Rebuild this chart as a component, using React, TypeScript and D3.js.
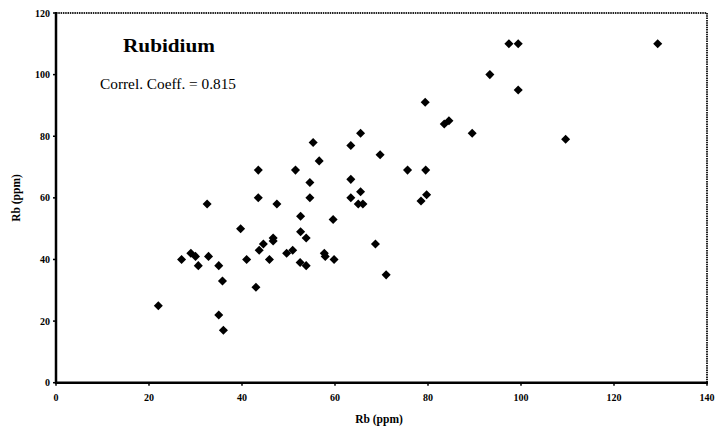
import React from "react";
import * as d3 from "d3";

const xValues = [22, 27, 29, 30, 30.6, 32.5, 32.8, 35, 35, 35.8, 36, 39.7, 41, 43, 43.7, 44.6, 45.9, 46.7, 46.7, 47.5, 49.6, 50.9, 52.6, 52.6, 52.5, 53.8, 53.8, 57.7, 57.9, 59.6, 59.8, 43.5, 43.5, 51.5, 54.6, 55.3, 56.6, 54.6, 63.4, 63.4, 63.4, 65.5, 65.5, 65, 66, 69.7, 75.6, 79.5, 78.5, 79.7, 68.7, 71, 79.4, 83.5, 84.5, 89.5, 93.3, 97.4, 99.4, 99.4, 109.6, 129.4];
const yValues = [25, 40, 42, 41, 38, 58, 41, 38, 22, 33, 17, 50, 40, 31, 43, 45, 40, 47, 46, 58, 42, 43, 54, 49, 39, 47, 38, 42, 41, 53, 40, 69, 60, 69, 65, 78, 72, 60, 77, 66, 60, 81, 62, 58, 58, 74, 69, 69, 59, 61, 45, 35, 91, 84, 85, 81, 100, 110, 110, 95, 79, 110];
const xTicks = [0, 20, 40, 60, 80, 100, 120, 140];
const yTicks = [0, 20, 40, 60, 80, 100, 120];
const title = "Rubidium";
const subtitle = "Correl. Coeff. = 0.815";
const xLabel = "Rb (ppm)";
const yLabel = "Rb (ppm)";

const W = 717;
const H = 434;
const left = 56, right = 707, top = 13, bottom = 382.7;

export default function App() {
  const x = d3.scaleLinear().domain([0, 140]).range([left, right]);
  const y = d3.scaleLinear().domain([0, 120]).range([bottom, top]);
  const diamond = d3.symbol().type(d3.symbolDiamond2).size(52)();
  const font = "'Liberation Serif', 'DejaVu Serif', serif";
  return (
    <svg width={W} height={H} style={{ position: "absolute", left: 0, top: 0, background: "#fff" }} fontFamily={font}>
      <line x1={left} y1={top} x2={right} y2={top} stroke="#222" strokeWidth={2} strokeDasharray="1.5,0.8" />
      <line x1={right} y1={top} x2={right} y2={bottom} stroke="#222" strokeWidth={2} strokeDasharray="1.5,0.8" />
      <line x1={left} y1={top - 1} x2={left} y2={bottom + 1} stroke="#000" strokeWidth={2.5} />
      <line x1={left - 1} y1={bottom} x2={right + 1} y2={bottom} stroke="#000" strokeWidth={2.5} />
      {yTicks.map((t) => (
        <g key={"y" + t}>
          <line x1={left - 3} x2={left} y1={y(t)} y2={y(t)} stroke="#000" strokeWidth={1.5} />
          <text x={left - 6} y={y(t) + 3.5} fontSize={10} fontWeight="bold" textAnchor="end">{t}</text>
        </g>
      ))}
      {xTicks.map((t) => (
        <g key={"x" + t}>
          <line x1={x(t)} x2={x(t)} y1={bottom} y2={bottom + 3} stroke="#000" strokeWidth={1.5} />
          <text x={x(t)} y={bottom + 18} fontSize={10} fontWeight="bold" textAnchor="middle">{t}</text>
        </g>
      ))}
      {xValues.map((v, i) => (
        <path key={i} d={diamond!} transform={`translate(${x(v)},${y(yValues[i])})`} fill="#000" />
      ))}
      <text x={123} y={52} fontSize={19} fontWeight="bold" textLength={92} lengthAdjust="spacingAndGlyphs">{title}</text>
      <text x={100} y={89} fontSize={14.5} textLength={136} lengthAdjust="spacingAndGlyphs">{subtitle}</text>
      <text x={379} y={423} fontSize={11.5} fontWeight="bold" textAnchor="middle">{xLabel}</text>
      <text transform={`translate(20,198) rotate(-90)`} fontSize={11.5} fontWeight="bold" textAnchor="middle">{yLabel}</text>
    </svg>
  );
}
